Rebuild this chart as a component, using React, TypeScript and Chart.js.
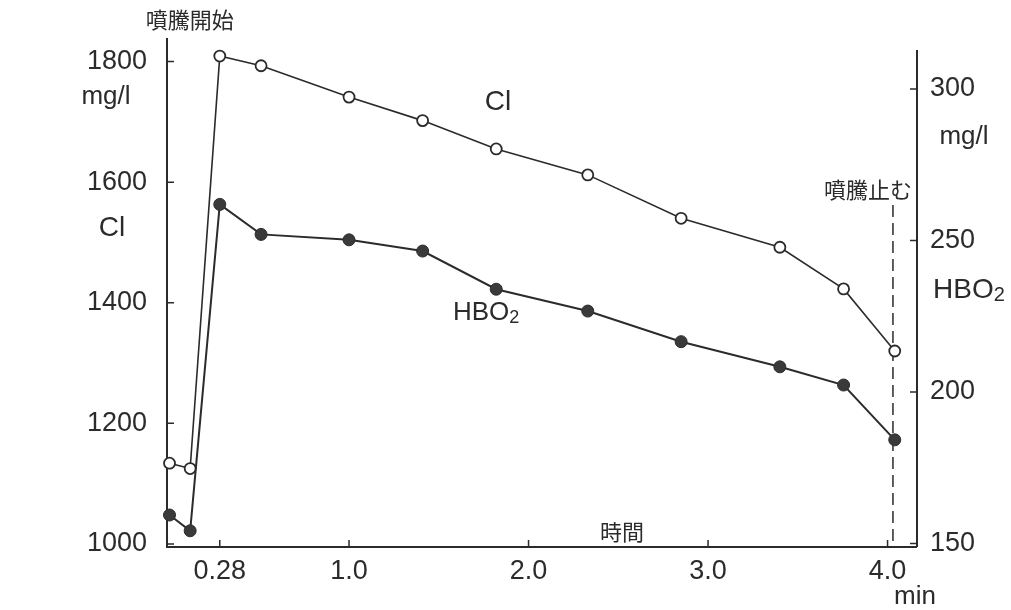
import React, { useEffect, useRef } from "react";
import { Chart, registerables } from "chart.js";

Chart.register(...registerables);

// time (min)
const times = [0, 0.115, 0.28, 0.51, 1.0, 1.41, 1.82, 2.33, 2.85, 3.4, 3.755, 4.04];
// Cl (mg/l, left axis)
const clValues = [1134, 1125, 1809, 1793, 1741, 1702, 1655, 1612, 1540, 1492, 1423, 1320];
// HBO2 (mg/l, right axis)
const hbo2Values = [159.4, 154.2, 261.9, 252.0, 250.2, 246.5, 233.9, 226.7, 216.6, 208.3, 202.3, 184.2];
const xTickValues = [0.28, 1.0, 2.0, 3.0, 4.0];
const xTickLabels = ["0.28", "1.0", "2.0", "3.0", "4.0"];
const clTicks = [1000, 1200, 1400, 1600, 1800];
const hbo2Ticks = [150, 200, 250, 300];
const startTime = 0.28;
const stopTime = 4.03;

const INK = "#2b2b2b";
const NUM_FONT = "'Liberation Sans', 'DejaVu Sans', sans-serif";
const JP_FONT = "'Noto Sans CJK JP', sans-serif";

const decorPlugin = {
  id: "decor",
  beforeDatasetsDraw(chart: any) {
    const { ctx, chartArea } = chart;
    const xs = chart.scales.x;
    const yl = chart.scales.yCl;
    const yr = chart.scales.yHbo;
    ctx.save();
    ctx.strokeStyle = INK;
    ctx.lineWidth = 2;
    // axes lines
    ctx.beginPath();
    ctx.moveTo(chartArea.left, chartArea.top);
    ctx.lineTo(chartArea.left, chartArea.bottom);
    ctx.lineTo(chartArea.right, chartArea.bottom);
    ctx.moveTo(chartArea.right, chartArea.top + 12);
    ctx.lineTo(chartArea.right, chartArea.bottom);
    ctx.stroke();
    ctx.lineWidth = 1.5;
    ctx.beginPath();
    clTicks.forEach((v) => {
      const y = yl.getPixelForValue(v);
      ctx.moveTo(chartArea.left, y);
      ctx.lineTo(chartArea.left + 7, y);
    });
    hbo2Ticks.forEach((v) => {
      const y = yr.getPixelForValue(v);
      ctx.moveTo(chartArea.right, y);
      ctx.lineTo(chartArea.right - 7, y);
    });
    xTickValues.forEach((v) => {
      const x = xs.getPixelForValue(v);
      ctx.moveTo(x, chartArea.bottom);
      ctx.lineTo(x, chartArea.bottom - 7);
    });
    ctx.stroke();
    // dashed line: eruption stops
    const xd = xs.getPixelForValue(stopTime);
    ctx.setLineDash([12, 6]);
    ctx.lineWidth = 1.5;
    ctx.beginPath();
    ctx.moveTo(xd, 205);
    ctx.lineTo(xd, chartArea.bottom);
    ctx.stroke();
    ctx.restore();
  },
  afterDraw(chart: any) {
    const { ctx } = chart;
    const xs = chart.scales.x;
    ctx.save();
    ctx.fillStyle = INK;
    ctx.textAlign = "center";
    ctx.textBaseline = "middle";
    // Japanese annotations
    ctx.font = `22px ${JP_FONT}`;
    ctx.fillText("噴騰開始", xs.getPixelForValue(startTime) - 30, 20);
    ctx.fillText("噴騰止む", xs.getPixelForValue(stopTime) - 25, 190);
    ctx.fillText("時間", 622, 532);
    // unit / axis labels
    ctx.font = `26px ${NUM_FONT}`;
    ctx.fillText("mg/l", 106, 97);
    ctx.fillText("mg/l", 964, 137);
    ctx.fillText("min", 915, 597);
    ctx.font = `28px ${NUM_FONT}`;
    ctx.fillText("Cl", 112, 228);
    ctx.fillText("Cl", 498, 102);
    const drawHBO2 = (x: number, y: number, size: number) => {
      ctx.textAlign = "left";
      ctx.font = `${size}px ${NUM_FONT}`;
      ctx.fillText("HBO", x, y);
      const w = ctx.measureText("HBO").width;
      ctx.font = `${Math.round(size * 0.7)}px ${NUM_FONT}`;
      ctx.fillText("2", x + w, y + size * 0.2);
      ctx.textAlign = "center";
    };
    drawHBO2(933, 290, 28);
    drawHBO2(453, 313, 26);
    ctx.restore();
  },
};

export default function App() {
  const canvasRef = useRef<HTMLCanvasElement | null>(null);

  useEffect(() => {
    if (!canvasRef.current) return;
    const clData = times.map((t, i) => ({ x: t, y: clValues[i] }));
    const hboData = times.map((t, i) => ({ x: t, y: hbo2Values[i] }));
    const chart = new Chart(canvasRef.current, {
      type: "line",
      data: {
        datasets: [
          {
            label: "Cl",
            data: clData,
            yAxisID: "yCl",
            borderColor: INK,
            borderWidth: 1.6,
            pointRadius: 5.5,
            pointBorderWidth: 1.8,
            pointBackgroundColor: "#ffffff",
            pointBorderColor: INK,
            tension: 0,
            clip: false,
          },
          {
            label: "HBO2",
            data: hboData,
            yAxisID: "yHbo",
            borderColor: INK,
            borderWidth: 2,
            pointRadius: 6,
            pointBorderWidth: 1,
            pointBackgroundColor: "#3a3a3a",
            pointBorderColor: INK,
            tension: 0,
            clip: false,
          },
        ],
      },
      plugins: [decorPlugin],
      options: {
        animation: false,
        responsive: true,
        maintainAspectRatio: false,
        layout: { padding: { top: 38, left: 0, right: 0, bottom: 0 } },
        plugins: {
          legend: { display: false },
          tooltip: { enabled: false },
        },
        scales: {
          x: {
            type: "linear",
            min: -0.014,
            max: 4.164,
            grid: { display: false },
            border: { display: false },
            afterFit: (s: any) => {
              s.height = 63;
            },
            afterBuildTicks: (s: any) => {
              s.ticks = xTickValues.map((v) => ({ value: v }));
            },
            ticks: {
              autoSkip: false,
              maxRotation: 0,
              padding: 0,
              color: INK,
              font: { family: NUM_FONT, size: 27 },
              callback: (v: any) => {
                const i = xTickValues.indexOf(Number(v));
                return i >= 0 ? xTickLabels[i] : "";
              },
            },
          },
          yCl: {
            type: "linear",
            position: "left",
            min: 995,
            max: 1839,
            grid: { display: false },
            border: { display: false },
            afterFit: (s: any) => {
              s.width = 167;
            },
            afterBuildTicks: (s: any) => {
              s.ticks = clTicks.map((v) => ({ value: v }));
            },
            ticks: {
              padding: 12,
              color: INK,
              font: { family: NUM_FONT, size: 27 },
              callback: (v: any) => String(v),
            },
          },
          yHbo: {
            type: "linear",
            position: "right",
            min: 148.85,
            max: 316.8,
            grid: { display: false },
            border: { display: false },
            afterFit: (s: any) => {
              s.width = 94;
            },
            afterBuildTicks: (s: any) => {
              s.ticks = hbo2Ticks.map((v) => ({ value: v }));
            },
            ticks: {
              padding: 5,
              color: INK,
              font: { family: NUM_FONT, size: 27 },
              callback: (v: any) => String(v),
            },
          },
        },
      },
    });
    return () => chart.destroy();
  }, []);

  return (
    <div
      style={{
        position: "absolute",
        left: 0,
        top: 0,
        width: 1011,
        height: 610,
        background: "#ffffff",
      }}
    >
      <canvas ref={canvasRef} />
    </div>
  );
}
